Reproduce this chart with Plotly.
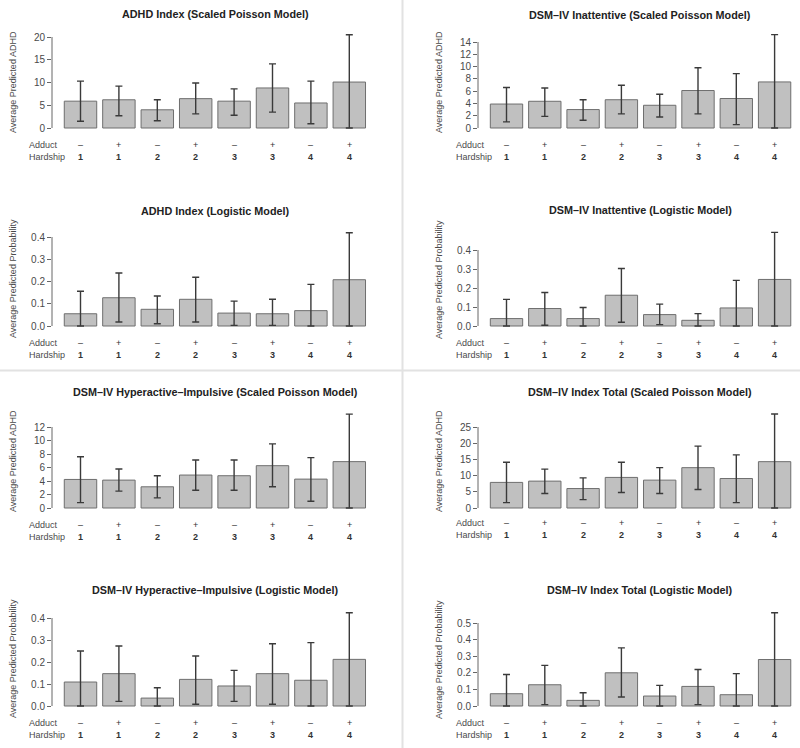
import plotly.graph_objects as go

# ---------------- data ----------------
adduct = ["–", "+", "–", "+", "–", "+", "–", "+"]
hardship = ["1", "1", "2", "2", "3", "3", "4", "4"]

titles = [
    "ADHD Index (Scaled Poisson Model)",
    "DSM–IV Inattentive (Scaled Poisson Model)",
    "ADHD Index (Logistic Model)",
    "DSM–IV Inattentive (Logistic Model)",
    "DSM–IV Hyperactive–Impulsive (Scaled Poisson Model)",
    "DSM–IV Index Total (Scaled Poisson Model)",
    "DSM–IV Hyperactive–Impulsive (Logistic Model)",
    "DSM–IV Index Total (Logistic Model)",
]
ytitles = [
    "Average Predicted ADHD", "Average Predicted ADHD",
    "Average Predicted Probability", "Average Predicted Probability",
    "Average Predicted ADHD", "Average Predicted ADHD",
    "Average Predicted Probability", "Average Predicted Probability",
]

adhd_pois_mean = [5.9, 6.2, 4.0, 6.45, 5.9, 8.8, 5.5, 10.1]
adhd_pois_up   = [10.3, 9.2, 6.2, 9.9, 8.6, 14.1, 10.3, 20.5]
adhd_pois_lo   = [1.5, 2.7, 1.6, 3.1, 2.8, 3.5, 0.95, 0.0]

inat_pois_mean = [3.9, 4.35, 3.0, 4.6, 3.7, 6.1, 4.8, 7.5]
inat_pois_up   = [6.6, 6.5, 4.6, 6.95, 5.5, 9.8, 8.85, 15.2]
inat_pois_lo   = [1.0, 1.9, 1.25, 2.3, 1.8, 2.3, 0.55, 0.0]

adhd_log_mean = [0.055, 0.127, 0.075, 0.12, 0.058, 0.055, 0.069, 0.208]
adhd_log_up   = [0.156, 0.238, 0.135, 0.219, 0.112, 0.12, 0.187, 0.419]
adhd_log_lo   = [0.0, 0.018, 0.01, 0.018, 0.003, 0.003, 0.0, 0.0]

inat_log_mean = [0.039, 0.092, 0.039, 0.162, 0.06, 0.03, 0.095, 0.245]
inat_log_up   = [0.14, 0.176, 0.097, 0.303, 0.115, 0.065, 0.24, 0.493]
inat_log_lo   = [0.0, 0.004, 0.0, 0.02, 0.007, 0.0, 0.0, 0.0]

hyp_pois_mean = [4.23, 4.13, 3.14, 4.88, 4.78, 6.27, 4.28, 6.87]
hyp_pois_up   = [7.6, 5.78, 4.78, 7.1, 7.1, 9.5, 7.47, 13.9]
hyp_pois_lo   = [0.8, 2.5, 1.5, 2.64, 2.64, 3.14, 1.0, 0.0]

tot_pois_mean = [7.9, 8.3, 6.0, 9.44, 8.6, 12.45, 9.1, 14.3]
tot_pois_up   = [14.1, 12.0, 9.3, 14.1, 12.45, 19.1, 16.4, 29.0]
tot_pois_lo   = [1.66, 4.46, 2.6, 4.77, 4.46, 5.7, 1.66, 0.0]

hyp_log_mean = [0.109, 0.147, 0.036, 0.121, 0.091, 0.147, 0.117, 0.212]
hyp_log_up   = [0.25, 0.273, 0.083, 0.227, 0.162, 0.283, 0.288, 0.424]
hyp_log_lo   = [0.0, 0.021, 0.0, 0.008, 0.021, 0.008, 0.0, 0.0]

tot_log_mean = [0.074, 0.128, 0.034, 0.2, 0.06, 0.118, 0.068, 0.28]
tot_log_up   = [0.19, 0.245, 0.08, 0.35, 0.124, 0.22, 0.195, 0.562]
tot_log_lo   = [0.0, 0.008, 0.0, 0.054, 0.0, 0.008, 0.0, 0.0]

panels_mean = [adhd_pois_mean, inat_pois_mean, adhd_log_mean, inat_log_mean,
               hyp_pois_mean, tot_pois_mean, hyp_log_mean, tot_log_mean]
panels_up = [adhd_pois_up, inat_pois_up, adhd_log_up, inat_log_up,
             hyp_pois_up, tot_pois_up, hyp_log_up, tot_log_up]
panels_lo = [adhd_pois_lo, inat_pois_lo, adhd_log_lo, inat_log_lo,
             hyp_pois_lo, tot_pois_lo, hyp_log_lo, tot_log_lo]

# y tick values per panel
yticks = [
    [0, 5, 10, 15, 20],
    [0, 2, 4, 6, 8, 10, 12, 14],
    [0.0, 0.1, 0.2, 0.3, 0.4],
    [0.0, 0.1, 0.2, 0.3, 0.4],
    [0, 2, 4, 6, 8, 10, 12],
    [0, 5, 10, 15, 20, 25],
    [0.0, 0.1, 0.2, 0.3, 0.4],
    [0.0, 0.1, 0.2, 0.3, 0.4, 0.5],
]
ytick_fmt = ["d", "d", ".1f", ".1f", "d", "d", ".1f", ".1f"]

# ---------------- layout geometry (pixels) ----------------
W, H = 800, 748
# (zero_px, top_tick_px, dom_top_px, dom_bot_px, title_y_px, label offset)
geom = [
    (128, 37, 30, 134, 14, 17),
    (128, 42, 30, 134, 15, 17),
    (326, 237, 230, 328, 211, 17),
    (326, 250, 230, 328, 210, 17),
    (508, 427, 412, 510, 392, 17),
    (508, 427, 412, 510, 392, 15),
    (706, 618, 610, 708, 590, 17),
    (706, 623, 610, 708, 590, 17),
]
# per column: axis x px, first bar center px, pitch px, domain right px, title center, row label x
cols = [
    dict(axis=52, c1=80.5, pitch=38.4, right=382, tc=215, lab=27, ytx=13),
    dict(axis=478, c1=506.5, pitch=38.3, right=800, tc=640, lab=454, ytx=439),
]

xpos = list(range(1, 9))

fig = go.Figure()
annotations = []
shapes = []

def py(p):
    return 1 - p / H

def px(p):
    return p / W

text_col = "#4a4a4a"
FONT = "Liberation Sans, Arial"

for i in range(8):
    col = cols[i % 2]
    zero_px, top_px, dtop, dbot, ty, loff = geom[i]
    tv = yticks[i][-1]
    scale = (zero_px - top_px) / tv  # px per unit
    y_lo = (zero_px - dbot) / scale
    y_hi = (zero_px - dtop) / scale
    x_lo = 1 - (col["c1"] - col["axis"]) / col["pitch"]
    x_hi = 1 + (col["right"] - col["c1"]) / col["pitch"]

    k = "" if i == 0 else str(i + 1)
    xa, ya = "x" + k, "y" + k

    mean = panels_mean[i]
    up = [u - m for u, m in zip(panels_up[i], mean)]
    lo = [m - l for l, m in zip(panels_lo[i], mean)]

    fig.add_trace(go.Bar(
        x=xpos, y=mean, width=0.845,
        marker=dict(color="#c0c0c0", line=dict(color="#6e6e6e", width=1)),
        error_y=dict(type="data", symmetric=False, array=up, arrayminus=lo,
                     color="#3a3a3a", thickness=1.4, width=3.5),
        xaxis=xa, yaxis=ya, showlegend=False, hoverinfo="skip",
    ))

    fig.layout["xaxis" + k] = dict(
        domain=[px(col["axis"]), px(col["right"])], range=[x_lo, x_hi],
        anchor=ya, showticklabels=False, ticks="", showline=False,
        showgrid=False, zeroline=False, fixedrange=True, automargin=False,
    )
    fig.layout["yaxis" + k] = dict(
        domain=[py(dbot), py(dtop)], range=[y_lo, y_hi], anchor=xa,
        tickvals=yticks[i], tickformat=ytick_fmt[i], ticks="outside",
        ticklen=4, tickcolor="#666", tickwidth=1, showline=False,
        showgrid=False, zeroline=False, automargin=False,
        tickfont=dict(family=FONT, size=10, color=text_col),
        fixedrange=True,
    )
    # R-style axis line, from first to last tick
    shapes.append(dict(type="line", xref=xa + " domain", yref=ya,
                       x0=0, x1=0, y0=yticks[i][0], y1=yticks[i][-1],
                       line=dict(color="#666", width=1)))

    # panel title
    annotations.append(dict(text="<b>" + titles[i] + "</b>", xref="paper", yref="paper",
                            x=px(col["tc"]), y=py(ty), xanchor="center", yanchor="middle",
                            showarrow=False,
                            font=dict(family=FONT, size=10.8, color="#222")))
    # y-axis title
    annotations.append(dict(text=ytitles[i], xref="paper", yref="paper",
                            x=px(col["ytx"]), y=py((dtop + dbot) / 2), textangle=-90,
                            xanchor="center", yanchor="middle", showarrow=False,
                            font=dict(family=FONT, size=9, color=text_col)))
    # row labels
    annotations.append(dict(text="Adduct", xref="paper", yref="paper",
                            x=px(col["lab"]), y=py(zero_px + loff), xanchor="left",
                            yanchor="middle", showarrow=False,
                            font=dict(family=FONT, size=9, color=text_col)))
    annotations.append(dict(text="Hardship", xref="paper", yref="paper",
                            x=px(col["lab"]), y=py(zero_px + loff + 12), xanchor="left",
                            yanchor="middle", showarrow=False,
                            font=dict(family=FONT, size=9, color=text_col)))
    for xv, a, h in zip(xpos, adduct, hardship):
        annotations.append(dict(text=a, xref=xa, yref="paper", x=xv, y=py(zero_px + loff),
                                xanchor="center", yanchor="middle", showarrow=False,
                                font=dict(family=FONT, size=9, color="#333")))
        annotations.append(dict(text="<b>" + h + "</b>", xref=xa, yref="paper", x=xv,
                                y=py(zero_px + loff + 12), xanchor="center", yanchor="middle",
                                showarrow=False,
                                font=dict(family=FONT, size=9, color="#333")))

# quadrant dividers
shapes.append(dict(type="line", xref="paper", yref="paper", x0=px(402.5), x1=px(402.5),
                   y0=0, y1=1, line=dict(color="#e2e2e2", width=2)))
shapes.append(dict(type="line", xref="paper", yref="paper", x0=0, x1=1,
                   y0=py(370.5), y1=py(370.5), line=dict(color="#e2e2e2", width=2)))

fig.update_layout(
    width=W, height=H, margin=dict(l=0, r=0, t=0, b=0, autoexpand=False),
    paper_bgcolor="white", plot_bgcolor="rgba(0,0,0,0)",
    annotations=annotations, shapes=shapes, bargap=0,
    font=dict(family=FONT),
)

fig.write_html(
    "out.html",
    config={"displayModeBar": False, "staticPlot": True},
    post_script="document.body.style.margin='0px';document.body.style.overflow='hidden';",
)
